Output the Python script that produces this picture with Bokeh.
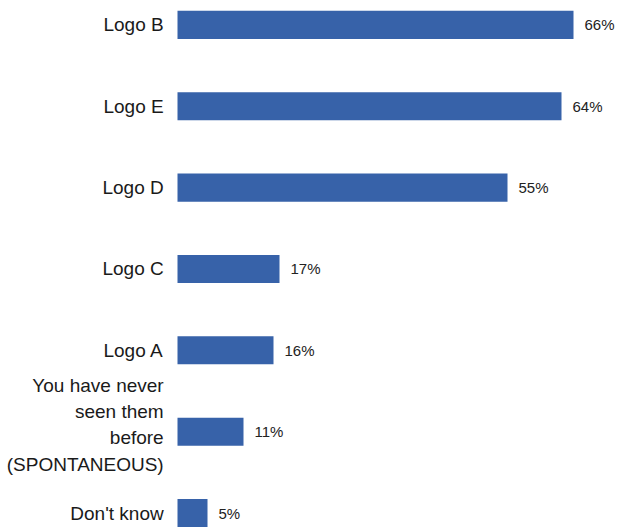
from bokeh.plotting import figure
from bokeh.models import ColumnDataSource, Range1d
from bokeh.core.properties import value
from bokeh.embed import file_html
from bokeh.resources import INLINE

categories = ["Logo B", "Logo E", "Logo D", "Logo C", "Logo A",
              "You have never\nseen them\nbefore\n(SPONTANEOUS)", "Don't know"]
values = [66, 64, 55, 17, 16, 11, 5]
value_labels = ["66%", "64%", "55%", "17%", "16%", "11%", "5%"]

n = len(categories)
ypos = [n - 1 - i for i in range(n)]
label_shift = [-7 if "\n" in c else 0 for c in categories]

src = ColumnDataSource(dict(cat=categories, val=values, lab=value_labels, y=ypos,
                            lx=[-2.3] * n, dy=label_shift))

FONT = "'Liberation Sans', Arial, sans-serif"

p = figure(width=618, height=527, output_backend="svg", toolbar_location=None,
           x_range=Range1d(-29.5, 73.5), y_range=Range1d(-0.178, 6.30),
           min_border=0, min_border_left=0, min_border_right=0,
           min_border_top=0, min_border_bottom=0)
p.axis.visible = False
p.grid.visible = False
p.outline_line_color = None
p.background_fill_color = "white"

p.hbar(y="y", left=0, right="val", height=0.345, source=src,
       fill_color="#3762A9", line_color=None)

p.text(x="val", y="y", text="lab", source=src, x_offset=11,
       text_align="left", text_baseline="middle",
       text_font=value(FONT), text_font_size="15px", text_color="#222222")

p.text(x="lx", y="y", text="cat", source=src, y_offset="dy",
       text_align="right", text_baseline="middle",
       text_font=value(FONT), text_font_size="19px", text_color="#1a1a1a",
       text_line_height=1.25)

open("out.html", "w").write(file_html(p, INLINE))
